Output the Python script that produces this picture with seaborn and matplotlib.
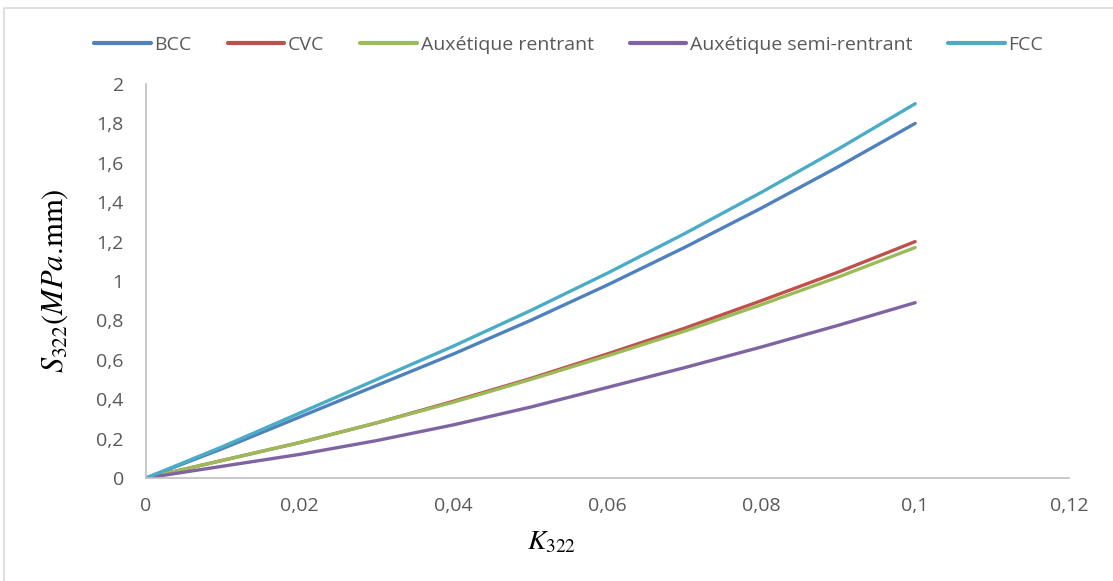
import numpy as np
import pandas as pd
import matplotlib
matplotlib.use("Agg")
import matplotlib.pyplot as plt
import seaborn as sns
from matplotlib.patches import Rectangle

# curvature K_322 and S_322 values
k322 = [0.0, 0.01, 0.02, 0.03, 0.04, 0.05, 0.06, 0.07, 0.08, 0.09, 0.1]
bcc = [0.0, 0.15, 0.31, 0.47, 0.63, 0.80, 0.98, 1.17, 1.37, 1.58, 1.80]
cvc = [0.0, 0.09, 0.18, 0.28, 0.39, 0.505, 0.63, 0.76, 0.90, 1.045, 1.20]
aux_rentrant = [0.0, 0.09, 0.18, 0.28, 0.385, 0.50, 0.62, 0.745, 0.88, 1.02, 1.17]
aux_semi = [0.0, 0.06, 0.12, 0.19, 0.27, 0.36, 0.46, 0.56, 0.665, 0.775, 0.89]
fcc = [0.0, 0.16, 0.33, 0.50, 0.67, 0.85, 1.04, 1.24, 1.45, 1.67, 1.90]

series_names = ["BCC", "CVC", "Auxétique rentrant", "Auxétique semi-rentrant", "FCC"]
colors = ["#4F81BD", "#C0504D", "#9BBB59", "#8064A2", "#4BACC6"]

x_ticks = [0, 0.02, 0.04, 0.06, 0.08, 0.1, 0.12]
y_ticks = [0, 0.2, 0.4, 0.6, 0.8, 1.0, 1.2, 1.4, 1.6, 1.8, 2.0]

sns.set_theme(style="white")
plt.rcParams["font.family"] = ["Open Sans", "DejaVu Sans"]
plt.rcParams["mathtext.fontset"] = "stix"

frames = []
for name, vals in zip(series_names, [bcc, cvc, aux_rentrant, aux_semi, fcc]):
    frames.append(pd.DataFrame({"K": k322, "S": vals, "serie": name}))
df = pd.concat(frames, ignore_index=True)

fig = plt.figure(figsize=(11.13, 5.81), dpi=100)
fig.patch.set_facecolor("white")
fig.patches.append(Rectangle((4 / 1113, -0.05), 1.2, 1.05 - 8 / 581, transform=fig.transFigure,
                             fill=False, edgecolor="#D9D9D9", linewidth=1.2))

ax = fig.add_axes([146 / 1113, 103 / 581, 923 / 1113, 394 / 581])
sns.lineplot(data=df, x="K", y="S", hue="serie", hue_order=series_names,
             palette=colors, linewidth=2.4, sort=False, ax=ax)

ax.set_xlim(0, 0.12)
ax.set_ylim(0, 2)
ax.set_xticks(x_ticks)
ax.set_yticks(y_ticks)


def fr(v):
    return f"{v:g}".replace(".", ",")


ax.set_xticklabels([fr(v) for v in x_ticks])
ax.set_yticklabels([fr(v) for v in y_ticks])
ax.tick_params(axis="both", length=0, labelsize=14, colors="#595959")
ax.tick_params(axis="x", pad=14)
ax.tick_params(axis="y", pad=16)

for side in ["top", "right"]:
    ax.spines[side].set_visible(False)
for side in ["left", "bottom"]:
    ax.spines[side].set_color("#BFBFBF")
    ax.spines[side].set_linewidth(1.2)

ax.set_xlabel(r"$K_{322}$", fontsize=20, color="black")
ax.xaxis.set_label_coords((552 - 146) / 923, -0.128)
ax.set_ylabel(r"$S_{322}(MPa.\!\mathrm{mm})$", fontsize=22, color="black")
ax.yaxis.set_label_coords(-0.082, 0.5)

handles, labels = ax.get_legend_handles_labels()
ax.legend(handles, labels, loc="center", bbox_to_anchor=(0.458, 1.099),
          ncol=5, frameon=False, fontsize=14, labelcolor="#595959",
          handlelength=2.9, handletextpad=0.2, columnspacing=1.85)
for line in ax.get_legend().get_lines():
    line.set_linewidth(3)

fig.savefig("out.png", dpi=100)
plt.close(fig)
